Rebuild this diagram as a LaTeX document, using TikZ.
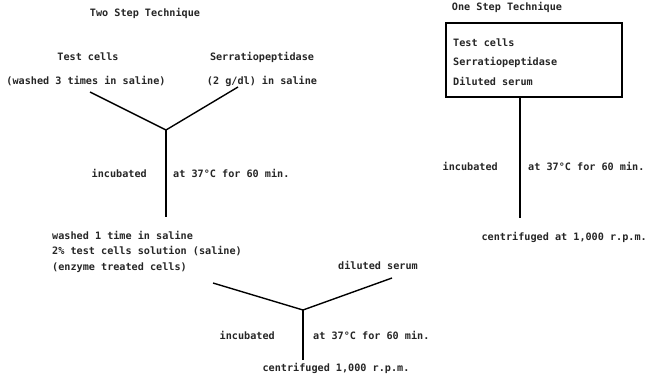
\documentclass[tikz,border=0pt]{standalone}
\usepackage{fontspec}
\setmonofont{DejaVu Sans Mono}
\begin{document}
\begin{tikzpicture}[x=1bp,y=-1bp,
  lbl/.style={inner sep=0pt,font=\ttfamily\bfseries\fontsize{10.2}{12}\selectfont,text=black!85},
  ln/.style={line width=1.4pt,black}]
\useasboundingbox (0,0) rectangle (648,389);
% Two step technique
\node[lbl] (title2) at (145,13) {Two Step Technique};
\node[lbl] (tc) at (88,57) {Test cells};
\node[lbl] (wash3) at (86,81) {(washed 3 times in saline)};
\node[lbl] (ser) at (262,57) {Serratiopeptidase};
\node[lbl] (ser2) at (262,81) {(2 g/dl) in saline};
\coordinate (a1) at (90,92);
\coordinate (a2) at (238,87);
\coordinate (j1) at (166,130);
\coordinate (b1) at (166,217);
\draw[ln] (a1) -- (j1) -- (a2);
\draw[ln] (j1) -- (b1);
\node[lbl,anchor=east] (inc1) at (147,173) {incubated};
\node[lbl,anchor=west] (at1) at (173,173) {at 37°C for 60 min.};
\node[lbl,anchor=west] (w1) at (52,235) {washed 1 time in saline};
\node[lbl,anchor=west] (w2) at (52,251) {2\% test cells solution (saline)};
\node[lbl,anchor=west] (w3) at (52,268) {(enzyme treated cells)};
\node[lbl] (dil) at (378,265) {diluted serum};
\coordinate (c1) at (213,283);
\coordinate (c2) at (392,278);
\coordinate (j2) at (303,310);
\coordinate (d1) at (303,360);
\draw[ln] (c1) -- (j2) -- (c2);
\draw[ln] (j2) -- (d1);
\node[lbl,anchor=east] (inc2) at (275,335) {incubated};
\node[lbl,anchor=west] (at2) at (313,335) {at 37°C for 60 min.};
\node[lbl] (cen2) at (336,368) {centrifuged 1,000 r.p.m.};
% One step technique
\node[lbl] (title1) at (507,7) {One Step Technique};
\node[draw,line width=1.4pt,minimum width=176bp,minimum height=74bp,inner sep=0pt] (box) at (534,60) {};
\node[lbl,anchor=west] (bt1) at (453,43) {Test cells};
\node[lbl,anchor=west] (bt2) at (453,62) {Serratiopeptidase};
\node[lbl,anchor=west] (bt3) at (453,81) {Diluted serum};
\coordinate (e1) at (520,218);
\draw[ln] (box.south -| e1) -- (e1);
\node[lbl,anchor=east] (inc3) at (498,166) {incubated};
\node[lbl,anchor=west] (at3) at (528,166) {at 37°C for 60 min.};
\node[lbl,anchor=east] (cen3) at (647,237) {centrifuged at 1,000 r.p.m.};
\end{tikzpicture}
\end{document}
